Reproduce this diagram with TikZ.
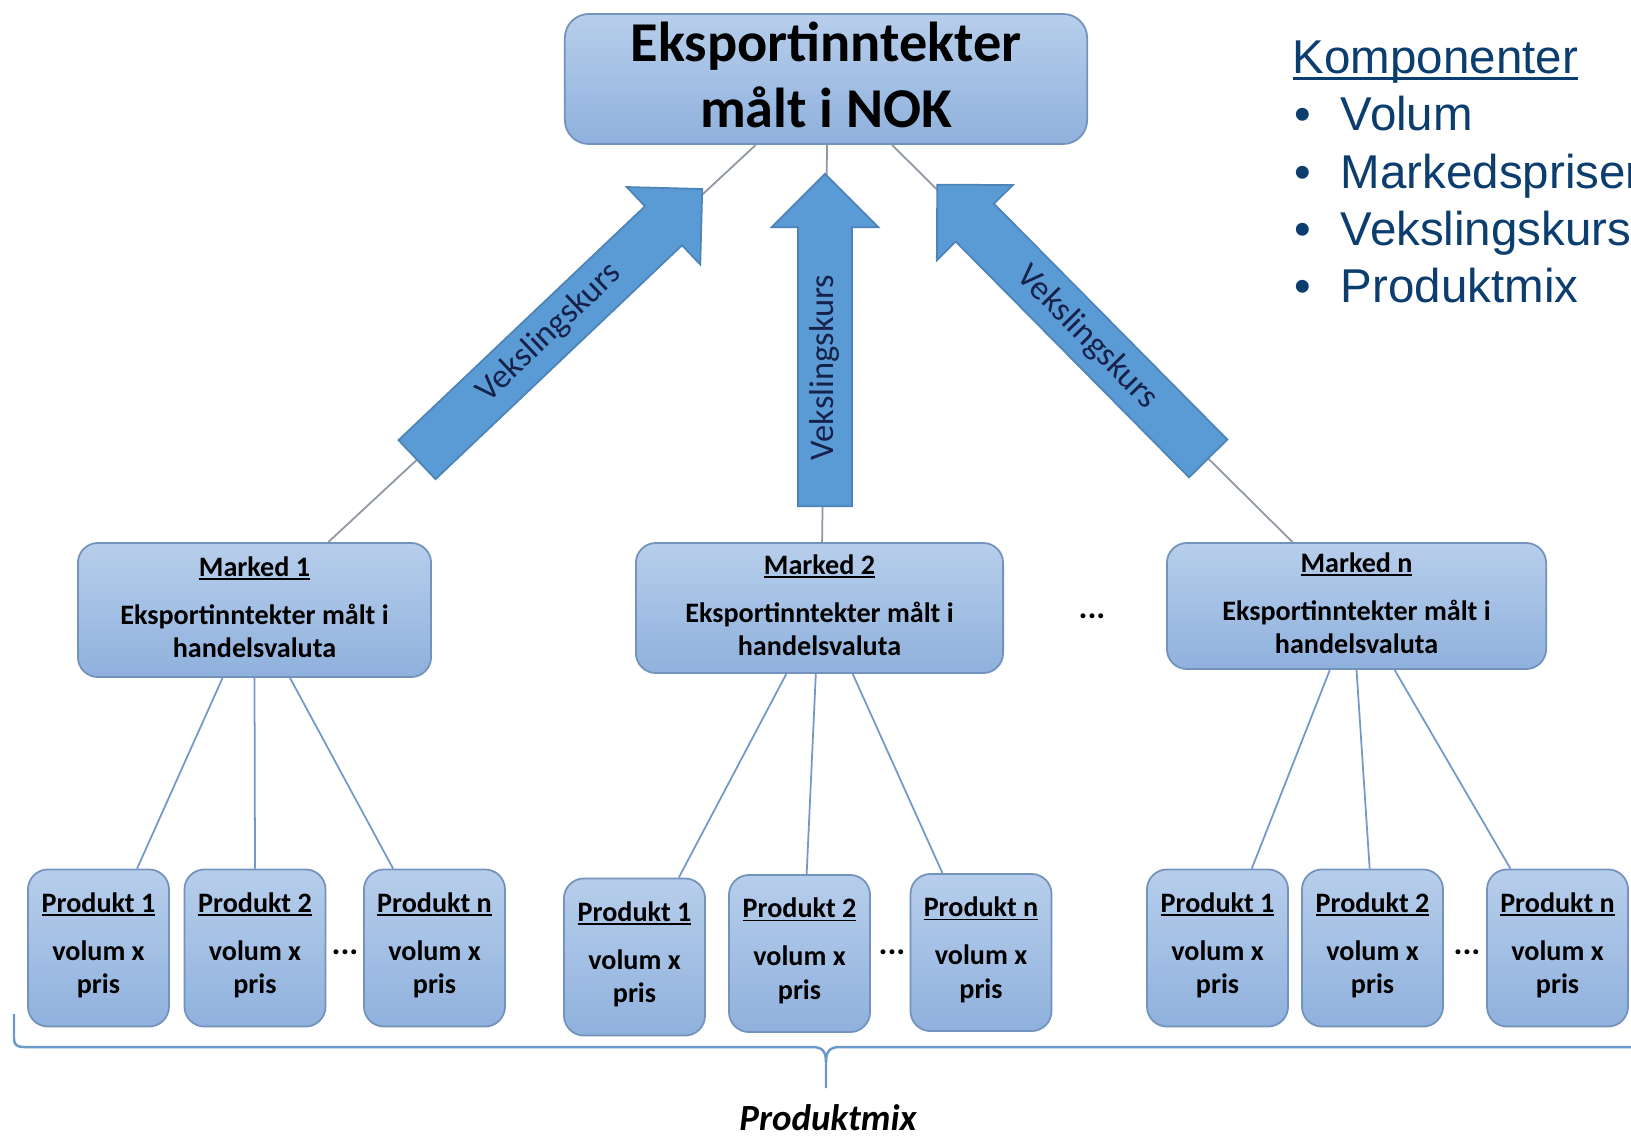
\documentclass[tikz,border=0pt]{standalone}
\usepackage{fontspec}
\setmainfont{Carlito}
\newfontfamily\arialfont{Liberation Sans}
\usepackage{tikz}
\usetikzlibrary{calc, shapes.arrows}

\definecolor{boxtop}{HTML}{B7CEEB}
\definecolor{boxbottom}{HTML}{8FB1DD}
\definecolor{boxline}{HTML}{7393BC}
\definecolor{arrowfill}{HTML}{5B9BD5}
\definecolor{arrowline}{HTML}{4D84B8}
\definecolor{linkgray}{HTML}{8E97A3}
\definecolor{linkblue}{HTML}{7499C8}
\definecolor{bracketblue}{HTML}{6B9AC9}
\definecolor{navytext}{HTML}{0B3D6E}
\definecolor{kurstext}{HTML}{17224A}

\newsavebox{\undlbox}
\newcommand{\undl}[1]{\sbox{\undlbox}{#1}\rlap{\rule[-0.13em]{\wd\undlbox}{0.065em}}\usebox{\undlbox}}
\newcommand{\lowpad}[1]{\rule[-#1]{0pt}{#1}}

\begin{document}
\begin{tikzpicture}[x=0.01cm, y=-0.01cm, line width=0.5pt,
    marketbox/.style={draw=boxline, rounded corners=0.2cm, top color=boxtop, bottom color=boxbottom,
      align=center, inner sep=0pt, font=\bfseries\fontsize{8}{9.4}\selectfont},
    mainbox/.style={marketbox, rounded corners=0.24cm, font=\bfseries\fontsize{16}{18.8}\selectfont},
    productbox/.style={marketbox, minimum width=1.41cm, minimum height=1.57cm},
    kurs/.style={single arrow, draw=arrowline, fill=arrowfill, single arrow head extend=0.265cm,
      text height=0.21cm, text depth=0.05cm, inner ysep=0.13cm, inner xsep=0pt, anchor=tail,
      text=kurstext, font=\fontsize{9.8}{12}\selectfont},
    toplink/.style={draw=linkgray},
    sublink/.style={draw=linkblue},
    dots/.style={inner sep=0pt, font=\bfseries\fontsize{9.5}{10}\selectfont}]

    % page
    \useasboundingbox (0,0) rectangle (1631,1136);
    \fill[white] (0,0) rectangle (1631,1136);
    \clip (0,0) rectangle (1631,1136);

    % draw top box and market boxes
    \node[mainbox, minimum width=5.22cm, minimum height=1.30cm] (top) at (826,79)
      {Eksportinntekter\\målt i NOK\lowpad{0.09cm}};

    \node[marketbox, minimum width=3.53cm, minimum height=1.34cm] (m1) at (254.5,610)
      {\undl{Marked 1}\\[4.3pt]Eksportinntekter målt i\\handelsvaluta\lowpad{0.06cm}};
    \node[marketbox, minimum width=3.67cm, minimum height=1.30cm] (m2) at (819.5,608)
      {\undl{Marked 2}\\[4.3pt]Eksportinntekter målt i\\handelsvaluta\lowpad{0.06cm}};
    \node[marketbox, minimum width=3.79cm, minimum height=1.26cm] (mn) at (1356.5,606)
      {\undl{Marked n}\\[4.3pt]Eksportinntekter målt i\\handelsvaluta\lowpad{0.06cm}};
    \node[dots] (mdots) at (1092,616) {...};

    % draw product boxes
    \node[productbox] (p11) at (98.5,948) {\undl{Produkt 1}\\[4.3pt]volum x\\pris\lowpad{0.1cm}};
    \node[productbox] (p12) at (255,948) {\undl{Produkt 2}\\[4.3pt]volum x\\pris\lowpad{0.1cm}};
    \node[productbox] (p1n) at (434.5,948) {\undl{Produkt n}\\[4.3pt]volum x\\pris\lowpad{0.1cm}};
    \node[dots] (d1) at (345,952) {...};

    \node[productbox] (p21) at (634.5,957) {\undl{Produkt 1}\\[4.3pt]volum x\\pris\lowpad{0.1cm}};
    \node[productbox] (p22) at (799.5,953.5) {\undl{Produkt 2}\\[4.3pt]volum x\\pris\lowpad{0.1cm}};
    \node[productbox] (p2n) at (981,952.5) {\undl{Produkt n}\\[4.3pt]volum x\\pris\lowpad{0.1cm}};
    \node[dots] (d2) at (892,952) {...};

    \node[productbox] (p31) at (1217.5,948) {\undl{Produkt 1}\\[4.3pt]volum x\\pris\lowpad{0.1cm}};
    \node[productbox] (p32) at (1372.5,948) {\undl{Produkt 2}\\[4.3pt]volum x\\pris\lowpad{0.1cm}};
    \node[productbox] (p3n) at (1557.5,948) {\undl{Produkt n}\\[4.3pt]volum x\\pris\lowpad{0.1cm}};
    \node[dots] (d3) at (1467,952) {...};

    % draw links from markets to products
    \draw[sublink] ($(m1.south west)!0.41!(m1.south east)$) -- ($(p11.north west)!0.77!(p11.north east)$);
    \draw[sublink] ($(m1.south west)!0.50!(m1.south east)$) -- ($(p12.north west)!0.50!(p12.north east)$);
    \draw[sublink] ($(m1.south west)!0.60!(m1.south east)$) -- ($(p1n.north west)!0.21!(p1n.north east)$);

    \draw[sublink] ($(m2.south west)!0.41!(m2.south east)$) -- ($(p21.north west)!0.81!(p21.north east)$);
    \draw[sublink] ($(m2.south west)!0.49!(m2.south east)$) -- ($(p22.north west)!0.55!(p22.north east)$);
    \draw[sublink] ($(m2.south west)!0.59!(m2.south east)$) -- ($(p2n.north west)!0.23!(p2n.north east)$);

    \draw[sublink] ($(mn.south west)!0.43!(mn.south east)$) -- ($(p31.north west)!0.74!(p31.north east)$);
    \draw[sublink] ($(mn.south west)!0.50!(mn.south east)$) -- ($(p32.north west)!0.48!(p32.north east)$);
    \draw[sublink] ($(mn.south west)!0.60!(mn.south east)$) -- ($(p3n.north west)!0.17!(p3n.north east)$);

    % draw links from markets to top box
    \coordinate (a1) at ($(m1.north west)!0.708!(m1.north east)$);
    \coordinate (b1) at ($(top.south west)!0.366!(top.south east)$);
    \coordinate (a2) at ($(m2.north west)!0.507!(m2.north east)$);
    \coordinate (b2) at ($(top.south west)!0.502!(top.south east)$);
    \coordinate (a3) at ($(mn.north west)!0.332!(mn.north east)$);
    \coordinate (b3) at ($(top.south west)!0.626!(top.south east)$);
    \draw[toplink] (a1) -- (b1);
    \draw[toplink] (a2) -- (b2);
    \draw[toplink] (a3) -- (b3);

    % draw exchange rate arrows
    \node[kurs, rotate=43.5, minimum height=3.93cm] (k1) at ($(a1)!0.206!(b1)$) {Vekslingskurs};
    \node[kurs, rotate=90, minimum height=3.32cm] (k2) at (825,507) {Vekslingskurs\hspace*{0.28cm}};
    \node[kurs, rotate=134.7, minimum height=3.85cm] (k3) at ($(a3)!0.209!(b3)$)
      {\rotatebox[origin=c]{180}{Vekslingskurs}\hspace*{0.16cm}};

    % draw component list
    \node[anchor=north west, align=left, inner sep=0pt, text=navytext,
      font=\arialfont\fontsize{13.5}{16.3}\selectfont] (komp) at (1292,40)
      {\undl{Komponenter}\\
       \makebox[4.8mm][l]{\hspace{0.2mm}\textbullet}Volum\\
       \makebox[4.8mm][l]{\hspace{0.2mm}\textbullet}Markedspriser\\
       \makebox[4.8mm][l]{\hspace{0.2mm}\textbullet}Vekslingskurs\\
       \makebox[4.8mm][l]{\hspace{0.2mm}\textbullet}Produktmix};

    % draw bracket and label
    \draw[bracketblue, line width=0.7pt] (14,1014) -- (14,1038) .. controls (14,1045) and (17,1047) .. (24,1047)
      -- (812,1047) .. controls (822,1047) and (826,1051) .. (826,1062) -- (826,1088);
    \draw[bracketblue, line width=0.7pt] (826,1062) .. controls (826,1051) and (830,1047) .. (840,1047) -- (1640,1047);
    \node[font=\bfseries\itshape\fontsize{10.5}{12}\selectfont] (mix) at (828,1118) {Produktmix};

\end{tikzpicture}
\end{document}
